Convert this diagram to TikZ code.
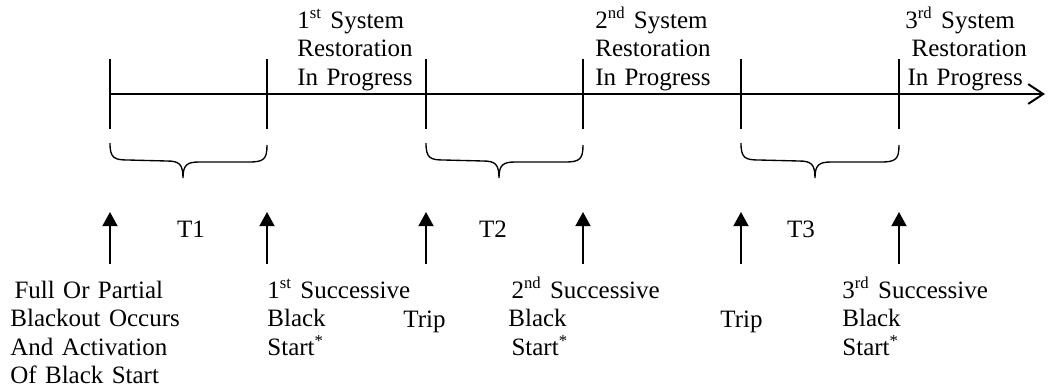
\documentclass[tikz,border=0pt]{standalone}
\usepackage{fontspec}
\setmainfont{Liberation Serif}
\usetikzlibrary{arrows.meta}
\begin{document}
\begin{tikzpicture}[x=0.48pt,y=-0.48pt,
  lbl/.style={anchor=base west,inner sep=0pt,text width=4cm,align=left,
    font={\fontsize{12}{13.7}\selectfont}},
  tlbl/.style={anchor=base,inner sep=0pt,font={\fontsize{12}{13.7}\selectfont}},
  axis/.style={line width=0.95pt,-{Straight Barb[length=7.2pt,width=9.5pt,line width=0.95pt]}},
  tick/.style={line width=1.05pt},
  brace/.style={line width=0.65pt},
  up/.style={line width=0.95pt,-{Triangle[length=6.8pt,width=7.2pt]}}]
\useasboundingbox (0,0) rectangle (1048,391);
% axis
\coordinate (s) at (110,94);
\coordinate (e) at (1045,94);
\draw[axis] (s) -- (e);
% ticks
\foreach \n/\x in {0/110,1/267,2/426,3/583,4/741,5/899}{
  \coordinate (kt\n) at (\x,59);
  \coordinate (kb\n) at (\x,129);
  \draw[tick] (kt\n) -- (kb\n);
  \coordinate (ab\n) at (\x,264);
  \coordinate (at\n) at (\x,212);
  \draw[up] (ab\n) -- (at\n);
}
% braces
\foreach \a/\b/\m in {110/267/183,426/583/499,741/899/815}{
  \draw[brace] (\a,143) .. controls (\a,158) and (\a+4,160) .. (\a+18,160)
    -- (\m-16,161) .. controls (\m-4,161) and (\m,164) .. (\m,178)
    .. controls (\m,165) and (\m+4,162) .. (\m+16,162)
    -- (\b-18,162) .. controls (\b-3,162) and (\b,159) .. (\b,145);
}
% top labels
\node[lbl] (r1) at (297,28) {1\textsuperscript{st} System\\Restoration\\In Progress};
\node[lbl] (r2) at (595,28) {2\textsuperscript{nd} System\\Restoration\\In Progress};
\node[lbl] (r3) at (905,28) {3\textsuperscript{rd} System\\\hspace*{3pt}Restoration\\\hspace*{1pt}In Progress};
% interval labels
\node[tlbl] (t1) at (191,237) {T1};
\node[tlbl] (t2) at (493,237) {T2};
\node[tlbl] (t3) at (801,237) {T3};
% bottom labels
\node[lbl] (b0) at (10,298) {\hspace*{2pt}Full Or Partial\\Blackout Occurs\\And Activation\\Of Black Start};
\node[lbl] (b1) at (267,298) {1\textsuperscript{st} Successive\\Black\\Start\textsuperscript{*}};
\node[lbl] (tr1) at (403,327) {Trip};
\node[lbl] (b2) at (508,298) {\hspace*{1.5pt}2\textsuperscript{nd} Successive\\Black\\\hspace*{1.5pt}Start\textsuperscript{*}};
\node[lbl] (tr2) at (720,327) {Trip};
\node[lbl] (b3) at (842,298) {3\textsuperscript{rd} Successive\\Black\\Start\textsuperscript{*}};
\end{tikzpicture}
\end{document}
